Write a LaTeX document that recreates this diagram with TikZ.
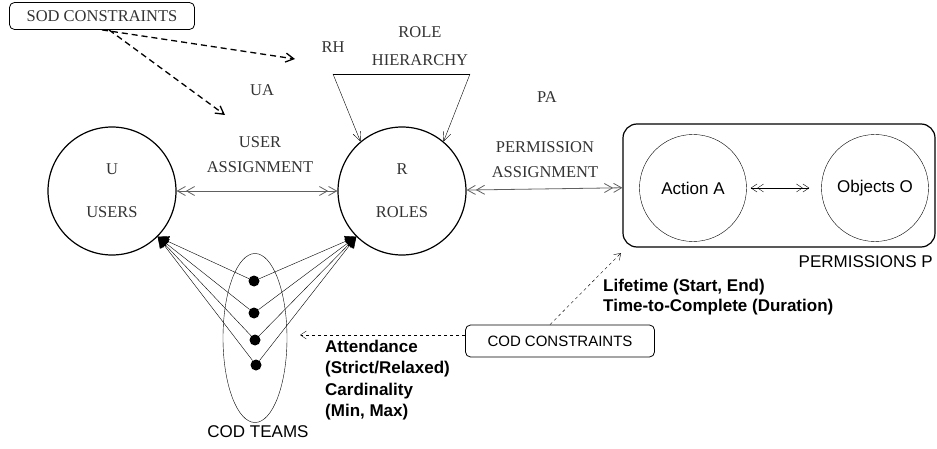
\documentclass[tikz,border=0pt]{standalone}
\usepackage{fontspec}
\setmainfont{Liberation Serif}
\setsansfont{Liberation Sans}
\usepackage{tikz}
\usetikzlibrary{shapes,positioning,arrows.meta}

\begin{document}
\begin{tikzpicture}
  [x=1pt,y=-1pt,
   bigN/.style={circle,draw,line width=1.2pt,minimum size=128pt,inner sep=0,
     font=\fontsize{16.5}{25}\selectfont,text=black!80,align=center},
   smallN/.style={circle,draw,minimum size=107pt,inner sep=0,
     font=\sffamily\fontsize{17}{20}\selectfont},
   serifL/.style={inner sep=0,align=center,text=black!80,
     font=\fontsize{16.5}{25}\selectfont},
   sansL/.style={inner sep=0,font=\sffamily\fontsize{17}{20}\selectfont},
   boldL/.style={inner sep=0,align=left,
     font=\sffamily\bfseries\fontsize{17}{21.5}\selectfont},
   consN/.style={draw,rounded corners=5pt,inner sep=0,thick},
   dotN/.style={circle,fill,inner sep=0,minimum size=11pt},
   assign/.style={draw=gray!75!black,thick,
     arrows={Straight Barb[length=8pt,width=9pt]Straight Barb[length=8pt,width=9pt]-Straight Barb[length=8pt,width=9pt]Straight Barb[length=8pt,width=9pt]}},
   sodA/.style={line width=1.3pt,dash pattern=on 6pt off 4pt,-{Straight Barb[length=8pt,width=9pt]}},
   codA/.style={dashed,-{Straight Barb[length=6pt,width=8pt]}},
   teamA/.style={-{Triangle[length=11pt,width=11pt]}}]

  \useasboundingbox (0,0) rectangle (937,449);

  \node[bigN] (u) at (112,191) {U\\[18pt]USERS};
  \node[bigN] (r) at (402,191) {R\\[18pt]ROLES};

  \node[draw,line width=1.2pt,rounded corners=14pt,minimum width=312pt,minimum height=123pt]
    (perm) at (779,185.5) {};
  \node[smallN] (act) at (693,188) {Action A};
  \node[smallN] (obj) at (875,188) {Objects O};
  \node[sansL,anchor=east] (permL) at (933,262) {PERMISSIONS P};

  \node[consN,minimum width=185pt,minimum height=27pt,serifL] (sod) at (102,16) {SOD CONSTRAINTS};
  \node[consN,minimum width=189pt,minimum height=32pt,sansL,
    font=\sffamily\fontsize{15}{18}\selectfont] (cod) at (560,341) {COD CONSTRAINTS};

  \node[serifL] (rh) at (333,47) {RH};
  \node[serifL] (rhL) at (420,46) {ROLE\\[3pt]HIERARCHY};
  \node[serifL] (ua) at (262,90) {UA};
  \node[serifL] (uaL) at (260,155) {USER\\ASSIGNMENT};
  \node[serifL] (pa) at (547,97) {PA};
  \node[serifL] (paL) at (545,160) {PERMISSION\\ASSIGNMENT};

  \node[boldL,anchor=west,font=\sffamily\bfseries\fontsize{17}{20.5}\selectfont]
    (life) at (603,297) {Lifetime (Start, End)\\Time-to-Complete (Duration)};
  \node[boldL,anchor=west] (att) at (325,380)
    {Attendance\\(Strict/Relaxed)\\Cardinality\\(Min, Max)};

  % cod teams
  \node[ellipse,draw,minimum width=64pt,minimum height=169pt,inner sep=0] (team) at (255,338) {};
  \node[sansL] (teamL) at (258,432) {COD TEAMS};
  \node[dotN] (d1) at (254,281) {};
  \node[dotN] (d2) at (254,313) {};
  \node[dotN] (d3) at (255,340) {};
  \node[dotN] (d4) at (256,365) {};

  \coordinate (rhl) at (333,74);
  \coordinate (rhr) at (470,74);
  \coordinate (sodRH) at (295,59);
  \coordinate (sodUA) at (225,115);
  \coordinate (codP) at (621,253);
  \coordinate (codT) at (300,335);

  \draw [assign] (u) -- (r);
  \draw [assign] (r) -- (perm);
  \draw [<<->>,>={Straight Barb[length=6pt,width=8pt]},shorten <=4pt,shorten >=12pt] (act) -- (obj);

  \draw [] (rhl) -- (rhr);
  \draw [-{Straight Barb[length=9pt,width=8pt]}] (rhl) -- (r.130);
  \draw [-{Straight Barb[length=9pt,width=8pt]}] (rhr) -- (r.50);

  \draw [sodA] (sod.south) -- (sodRH);
  \draw [sodA] ([xshift=7pt]sod.south) -- (sodUA);
  \draw [codA] ([xshift=-10pt]cod.north) -- (codP);
  \draw [codA] ([yshift=6pt]cod.west) -- (codT);

  \foreach \i in {1,...,4} {
    \draw [teamA] (d\i) -- (u.-45);
    \draw [teamA] (d\i) -- (r.225);
  }
\end{tikzpicture}
\end{document}
